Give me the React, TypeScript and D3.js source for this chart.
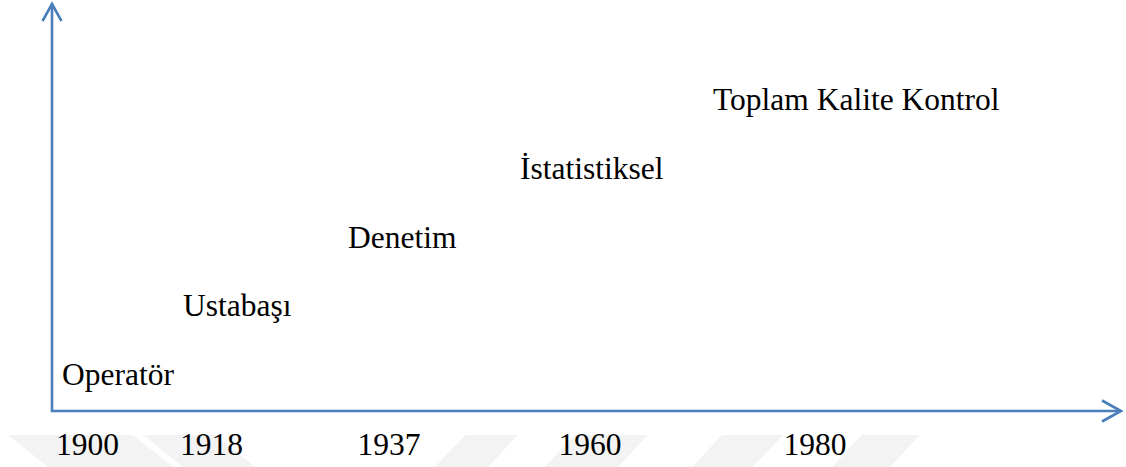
import * as d3 from 'd3';

// Stages of quality control and the years they start
const years = ['1900', '1918', '1937', '1960', '1980'];
const stages = ['Operatör', 'Ustabaşı', 'Denetim', 'İstatistiksel', 'Toplam Kalite Kontrol'];

// faint watermark shapes in the bottom band (decoration of the source page)
const watermark = [
  [[8, 435], [133, 435], [173, 467], [48, 467]],
  [[143, 435], [215, 435], [255, 467], [183, 467]],
  [[465, 435], [518, 435], [488, 467], [435, 467]],
  [[575, 435], [648, 435], [618, 467], [545, 467]],
  [[722, 435], [783, 435], [753, 467], [692, 467]],
  [[862, 435], [920, 435], [890, 467], [832, 467]],
];

const App = () => {
  const width = 1126;
  const height = 467;
  const axisColor = '#4a7ebb';
  const font = "'Liberation Serif', 'Times New Roman', serif";

  // axis frame
  const x = d3.scaleLinear().domain([0, 1]).range([52, 1121]);
  const y = d3.scaleLinear().domain([0, 1]).range([411, 4]);

  // tick labels along the time axis (uneven spacing as in the original)
  const tickX = d3.scaleOrdinal<string, number>().domain(years).range([87.5, 211.5, 389, 590, 815]);
  // stage labels climb like a staircase
  const labelX = d3.scaleOrdinal<string, number>().domain(stages).range([62, 183, 348, 520, 713]);
  const levelY = d3.scaleLinear().domain([0, stages.length - 1]).range([385, 110]);

  const line = d3.line();
  const frame = line([[x(0), y(1)], [x(0), y(0)], [x(1), y(0)]]);
  const upArrow = line([[x(0) - 9.5, y(1) + 17], [x(0), y(1)], [x(0) + 9.5, y(1) + 17]]);
  const rightArrow = line([[x(1) - 19, y(0) - 10.5], [x(1), y(0)], [x(1) - 19, y(0) + 10.5]]);

  return (
    <svg
      width={width}
      height={height}
      style={{ position: 'absolute', left: 0, top: 0, background: '#ffffff' }}
    >
      {/* Watermark */}
      {watermark.map((pts, i) => (
        <polygon key={i} points={pts.map(p => p.join(',')).join(' ')} fill="#f3f3f3" />
      ))}

      {/* Axes with open arrowheads */}
      <path d={frame!} fill="none" stroke={axisColor} strokeWidth={2.6} strokeLinejoin="miter" />
      <path d={upArrow!} fill="none" stroke={axisColor} strokeWidth={2.6} />
      <path d={rightArrow!} fill="none" stroke={axisColor} strokeWidth={2.6} />

      {/* Year labels */}
      {years.map(yr => (
        <text key={yr} x={tickX(yr)} y={455} textAnchor="middle" fontFamily={font} fontSize={31.5} fill="#000">
          {yr}
        </text>
      ))}

      {/* Stage labels */}
      {stages.map((s, i) => (
        <text key={s} x={labelX(s)} y={levelY(i)} fontFamily={font} fontSize={31.5} fill="#000">
          {s}
        </text>
      ))}
    </svg>
  );
};

export default App;
